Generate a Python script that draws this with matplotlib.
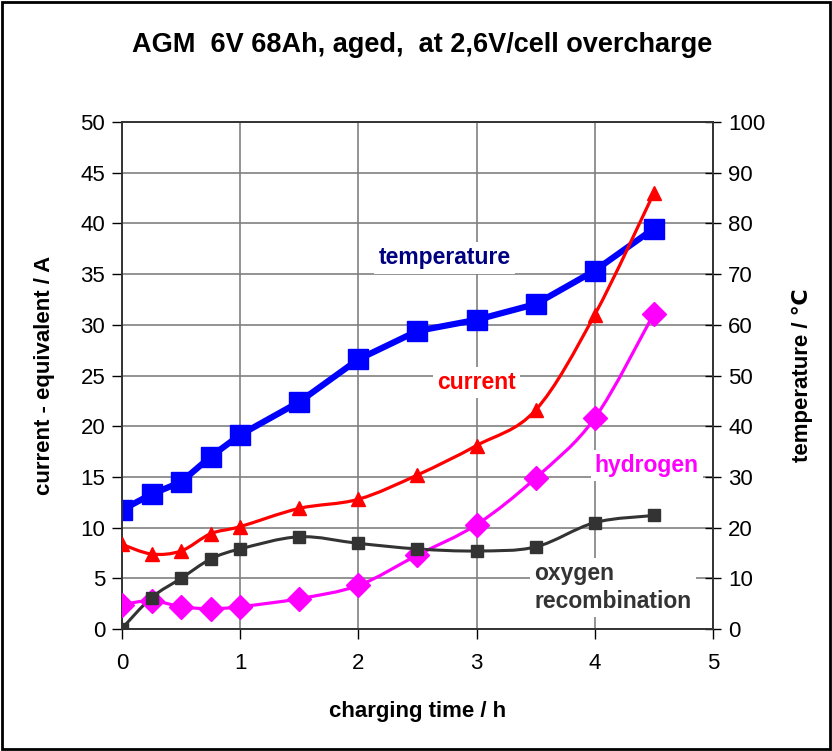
import numpy as np
import matplotlib
matplotlib.use('Agg')
import matplotlib.pyplot as plt
from matplotlib.path import Path
from matplotlib.patches import PathPatch, Rectangle

plt.rcParams['font.family'] = ['Liberation Sans', 'DejaVu Sans']

# charging time / h
hours = [0, 0.25, 0.5, 0.75, 1, 1.5, 2, 2.5, 3, 3.5, 4, 4.5]

temperature = [23.5, 26.6, 29.0, 34.0, 38.3, 44.8, 53.2, 58.8, 61.0, 64.1, 70.7, 79.0]
current = [8.35, 7.4, 7.7, 9.4, 10.1, 11.9, 12.8, 15.2, 18.1, 21.6, 31.0, 43.0]
hydrogen = [2.4, 2.8, 2.2, 2.0, 2.2, 3.0, 4.3, 7.3, 10.3, 14.9, 20.8, 31.1]
oxygen = [0.05, 3.1, 5.0, 6.9, 7.9, 9.1, 8.45, 7.9, 7.7, 8.1, 10.5, 11.2]

left_ticks = list(range(0, 51, 5))
right_ticks = list(range(0, 101, 10))
x_ticks = [0, 1, 2, 3, 4, 5]


def smooth_path(x, y):
    # excel style smoothed line: bezier through the points
    p = np.column_stack([x, y]).astype(float)
    verts = [p[0]]
    codes = [Path.MOVETO]
    n = len(p)
    for i in range(n - 1):
        p0 = p[i - 1] if i > 0 else p[i]
        p3 = p[i + 2] if i + 2 < n else p[i + 1]
        c1 = p[i] + (p[i + 1] - p0) / 6.0
        c2 = p[i + 1] - (p3 - p[i]) / 6.0
        verts += [c1, c2, p[i + 1]]
        codes += [Path.CURVE4] * 3
    return Path(verts, codes)


fig = plt.figure(figsize=(8.32, 7.51), dpi=100)
ax2 = fig.add_axes([0.1466, 0.1624, 0.7103, 0.675])
ax = ax2.twinx()
ax2.yaxis.tick_right()
ax2.yaxis.set_label_position('right')
ax.yaxis.tick_left()
ax.yaxis.set_label_position('left')
ax.set_zorder(ax2.get_zorder() + 1)
ax.patch.set_visible(False)

gridc = '#808080'
ax2.set_xlim(0, 5)
ax2.set_ylim(0, 100)
ax.set_ylim(0, 50)
ax2.set_xticks(x_ticks)
ax2.set_yticks(right_ticks)
ax.set_yticks(left_ticks)
ax2.grid(True, color=gridc, linewidth=1.2)
ax2.set_axisbelow(True)

for a in (ax, ax2):
    for s in a.spines.values():
        s.set_color('#333333')
        s.set_linewidth(1.2)
ax.tick_params(axis='y', direction='out', length=7, width=1, labelsize=16, pad=5)
ax2.tick_params(axis='y', direction='inout', length=12, width=1, labelsize=16, pad=5)
ax2.tick_params(axis='x', direction='out', length=7, width=1, labelsize=16, pad=10)

# temperature on the right axis
ax2.plot(hours, temperature, color='#0000ff', linewidth=4.5, marker='s',
         markersize=14.5, zorder=3)

series = [
    (current, '#ff0000', '^', 9.5, 2.3),
    (hydrogen, '#ff00ff', 'D', 12, 2.3),
    (oxygen, '#333333', 's', 8.5, 2.2),
]
for vals, col, mk, ms, lw in series:
    ax.add_patch(PathPatch(smooth_path(hours, vals), facecolor='none',
                           edgecolor=col, linewidth=lw, zorder=2))
    ax.plot(hours, vals, linestyle='none', marker=mk, markersize=ms,
            color=col, zorder=3)

box = dict(facecolor='white', edgecolor='none', pad=3)
ax.text(2.73, 36.6, 'temperature', color='#000080', fontsize=16.5,
        fontweight='bold', ha='center', va='center', bbox=box)
ax.text(3.0, 24.3, 'current', color='#ff0000', fontsize=16.5,
        fontweight='bold', ha='center', va='center', bbox=box)
ax.text(4.44, 16.1, 'hydrogen', color='#ff00ff', fontsize=16.5,
        fontweight='bold', ha='center', va='center', bbox=box)
ax.text(3.49, 4.1, 'oxygen\nrecombination', color='#333333', fontsize=16.5,
        fontweight='bold', ha='left', va='center', linespacing=1.25, bbox=box)

ax.set_ylabel('current - equivalent / A', fontsize=16, fontweight='bold', labelpad=18)
ax2.set_ylabel('temperature / ℃', fontsize=16, fontweight='bold', labelpad=19)
ax2.set_xlabel('charging time / h', fontsize=16, fontweight='bold', labelpad=20)

fig.text(0.507, 0.94, 'AGM  6V 68Ah, aged,  at 2,6V/cell overcharge',
         fontsize=19.5, fontweight='bold', ha='center', va='center')

fig.patches.append(Rectangle((0.002, 0.002), 0.996, 0.996, transform=fig.transFigure,
                             fill=False, edgecolor='black', linewidth=2))

fig.savefig('out.png', dpi=100)
